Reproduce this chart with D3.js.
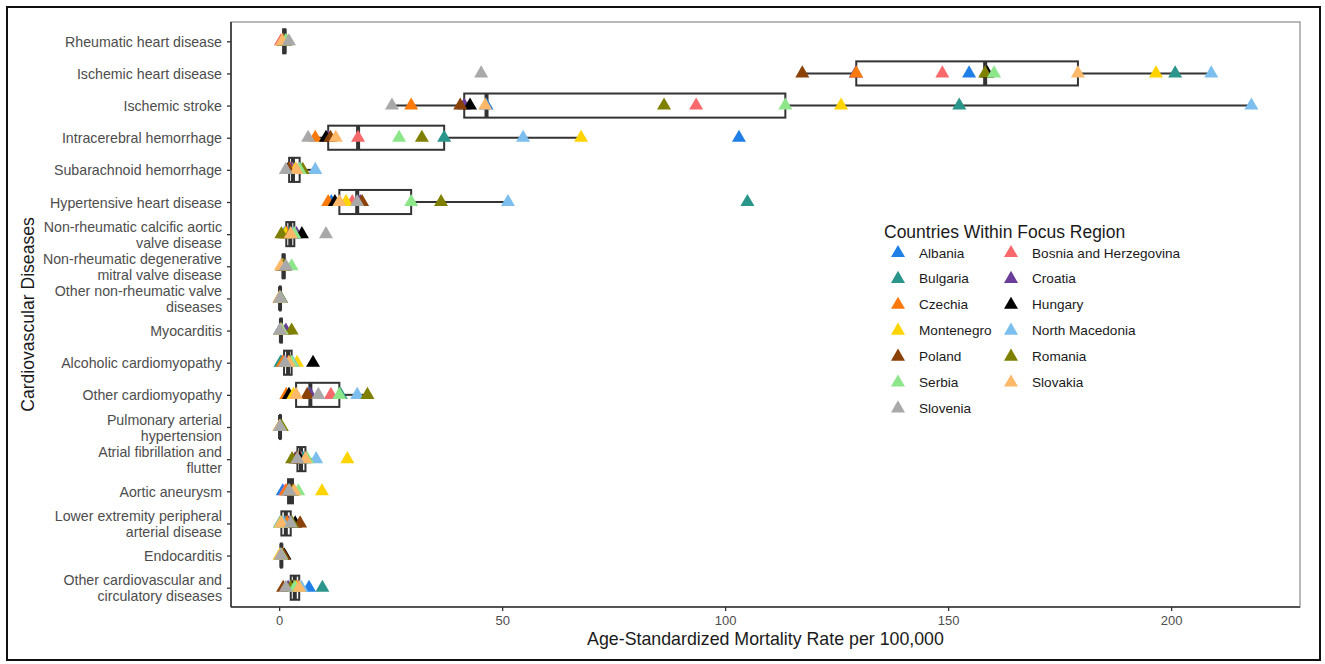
<!DOCTYPE html>
<html>
<head>
<meta charset="utf-8">
<script src="https://cdn.jsdelivr.net/npm/d3@7"></script>
<style>
  html, body { margin: 0; padding: 0; background: #fff; }
  svg { display: block; font-family: "Liberation Sans", Arial, Helvetica, sans-serif; }
</style>
</head>
<body>
<svg id="chart" width="1325" height="664"></svg>
<script>
// ---------------- DATA ----------------
const diseases = [
  "Rheumatic heart disease",
  "Ischemic heart disease",
  "Ischemic stroke",
  "Intracerebral hemorrhage",
  "Subarachnoid hemorrhage",
  "Hypertensive heart disease",
  "Non-rheumatic calcific aortic valve disease",
  "Non-rheumatic degenerative mitral valve disease",
  "Other non-rheumatic valve diseases",
  "Myocarditis",
  "Alcoholic cardiomyopathy",
  "Other cardiomyopathy",
  "Pulmonary arterial hypertension",
  "Atrial fibrillation and flutter",
  "Aortic aneurysm",
  "Lower extremity peripheral arterial disease",
  "Endocarditis",
  "Other cardiovascular and circulatory diseases"
];

const countries = ["Albania", "Bosnia and Herzegovina", "Bulgaria", "Croatia", "Czechia", "Hungary",
  "Montenegro", "North Macedonia", "Poland", "Romania", "Serbia", "Slovakia", "Slovenia"];

const countryColors = ["#1f7fe6", "#f8696b", "#2a958a", "#6a3d9a", "#fb7a0b", "#000000",
  "#ffd400", "#7cbfee", "#8b4209", "#808000", "#8ee68a", "#fdb86a", "#a9a9a9"];

// values in disease order above (age-standardized mortality per 100,000)
const albania        = [1.3, 154.7,  46.5, 103.1, 3.1,  11.7,  1.2, 0.6, 0.2, 0.2, 0.6,  6.7, 0.2,  5.1, 0.8, 0.2, 0.4, 6.7];
const bosnia         = [0.4, 148.7,  93.5,  17.7, 2.9,  16.4,  1.9, 0.8, 0.1, 0.5, 1.1, 11.6, 0.1,  4.9, 1.4, 1.5, 0.3, 4.1];
const bulgaria       = [1.2, 200.9, 152.5,  37.0, 4.8, 105.0,  2.2, 0.9, 0.2, 0.4, 0.3, 13.8, 0.3,  5.4, 2.0, 1.2, 0.6, 9.7];
const croatia        = [1.1, 129.3,  41.5,  11.0, 2.6,  18.2,  3.9, 1.2, 0.4, 1.5, 1.6,  7.0, 0.2,  3.6, 2.7, 2.1, 0.6, 2.0];
const czechia        = [0.8, 129.4,  29.6,   8.1, 2.24, 11.0,  1.6, 0.9, 0.3, 0.3, 0.8,  1.6, 0.2,  4.4, 1.7, 1.8, 0.7, 3.2];
const hungary        = [1.3, 158.8,  42.8,  10.5, 2.0,  12.5,  5.1, 1.3, 0.3, 0.6, 7.6,  2.2, 0.2,  4.6, 2.9, 3.6, 1.2, 2.9];
const montenegro     = [1.0, 196.6, 126.0,  67.7, 3.6,  15.0,  1.4, 0.7, 0.1, 0.5, 4.0,  3.2, 0.1, 15.3, 9.6, 0.3, 0.1, 3.8];
const northMacedonia = [1.4, 209.0, 218.0,  54.7, 8.1,  51.3,  3.0, 1.0, 0.2, 0.4, 3.0, 17.5, 0.3,  8.3, 2.2, 0.9, 0.4, 5.0];
const poland         = [0.9, 117.3,  40.6,  11.5, 2.1,  18.6,  2.5, 1.1, 0.2, 0.4, 2.0,  6.3, 0.3,  3.9, 2.6, 4.7, 1.0, 0.9];
const romania        = [1.6, 158.3,  86.3,  32.0, 5.3,  36.3,  0.5, 1.0, 0.3, 2.8, 2.5, 19.8, 0.6,  2.9, 3.1, 2.9, 0.5, 2.6];
const serbia         = [1.5, 160.3, 113.5,  26.9, 4.6,  29.6,  3.4, 2.8, 0.3, 0.6, 2.8, 13.5, 0.2,  6.3, 4.3, 0.4, 0.5, 3.5];
const slovakia       = [0.7, 179.1,  46.2,  12.7, 3.9,  13.5,  2.6, 0.4, 0.1, 0.3, 2.2,  3.8, 0.1,  5.9, 3.4, 0.5, 0.2, 4.5];
const slovenia       = [2.2,  45.3,  25.3,   6.5, 1.5,  17.5, 10.5, 1.5, 0.2, 0.2, 1.3,  8.8, 0.2,  4.1, 2.3, 2.6, 0.4, 1.5];

const xTicks = [0, 50, 100, 150, 200];

const seriesValues = [albania, bosnia, bulgaria, croatia, czechia, hungary, montenegro,
  northMacedonia, poland, romania, serbia, slovakia, slovenia];

// ---------------- LAYOUT ----------------
const svg = d3.select("#chart");
const panel = { left: 231, right: 1300, top: 22, bottom: 607 };
const FONT = "'Liberation Sans', Arial, sans-serif";

// outer frame
svg.append("rect").attr("x", 7).attr("y", 7).attr("width", 1313).attr("height", 653)
  .attr("fill", "none").attr("stroke", "#111").attr("stroke-width", 2);

// long-format points
const points = [];
seriesValues.forEach((vals, ci) => {
  vals.forEach((v, di) => points.push({ country: countries[ci], color: countryColors[ci], disease: diseases[di], value: v }));
});

const allVals = points.map(d => d.value);
const minV = d3.min(allVals), maxV = d3.max(allVals);
const pad = (maxV - minV) * 0.05;
const x = d3.scaleLinear().domain([minV - pad, maxV + pad]).range([panel.left, panel.right]);
const y = d3.scalePoint().domain(diseases).range([panel.top, panel.bottom]).padding(0.6);
const step = y.step();

// panel border
svg.append("rect").attr("x", panel.left).attr("y", panel.top)
  .attr("width", panel.right - panel.left).attr("height", panel.bottom - panel.top)
  .attr("fill", "none").attr("stroke", "#8a8a8a").attr("stroke-width", 1.2);

// axes
const xAxis = d3.axisBottom(x).tickValues(xTicks).tickSize(4).tickPadding(5);
const gx = svg.append("g").attr("transform", `translate(0,${panel.bottom})`).call(xAxis);
gx.select(".domain").remove();
gx.append("line").attr("x1", panel.left).attr("x2", panel.right).attr("y1", 0).attr("y2", 0)
  .attr("stroke", "#333").attr("stroke-width", 1.6);
gx.selectAll(".tick line").attr("stroke", "#333").attr("stroke-width", 1.3);
gx.selectAll(".tick text").attr("fill", "#4d4d4d").style("font-size", "13px").style("font-family", FONT);

const yAxis = d3.axisLeft(y).tickSize(4).tickPadding(5);
const gy = svg.append("g").attr("transform", `translate(${panel.left},0)`).call(yAxis);
gy.select(".domain").remove();
gy.append("line").attr("x1", 0).attr("x2", 0).attr("y1", panel.top).attr("y2", panel.bottom)
  .attr("stroke", "#333").attr("stroke-width", 1.6);
gy.selectAll(".tick line").attr("stroke", "#333").attr("stroke-width", 1.3);

function wrap(str, width) {
  const words = str.split(" ");
  const lines = [];
  let cur = "";
  words.forEach(w => {
    if (cur === "") cur = w;
    else if ((cur + " " + w).length <= width) cur += " " + w;
    else { lines.push(cur); cur = w; }
  });
  if (cur) lines.push(cur);
  return lines;
}

gy.selectAll(".tick text").each(function (d) {
  const t = d3.select(this);
  const lines = wrap(d, 30);
  t.text(null).attr("fill", "#4d4d4d").style("font-size", "14.2px").style("font-family", FONT)
    .attr("dy", null).attr("dominant-baseline", "central");
  const lh = 16;
  lines.forEach((ln, i) => {
    t.append("tspan").attr("x", -9).attr("y", (i - (lines.length - 1) / 2) * lh).text(ln);
  });
});

// titles
svg.append("text").attr("x", (panel.left + panel.right) / 2).attr("y", 645)
  .attr("text-anchor", "middle").attr("fill", "#1a1a1a").style("font-size", "17.8px")
  .text("Age-Standardized Mortality Rate per 100,000");
svg.append("text").attr("transform", `translate(34,${(panel.top + panel.bottom) / 2}) rotate(-90)`)
  .attr("text-anchor", "middle").attr("fill", "#1a1a1a").style("font-size", "17.6px")
  .text("Cardiovascular Diseases");

// ---------------- BOXPLOTS ----------------
const boxStats = diseases.map((dis, di) => {
  const vals = seriesValues.map(s => s[di]).sort(d3.ascending);
  const q1 = d3.quantile(vals, 0.25), med = d3.quantile(vals, 0.5), q3 = d3.quantile(vals, 0.75);
  const iqr = q3 - q1;
  const lo = d3.min(vals.filter(v => v >= q1 - 1.5 * iqr));
  const hi = d3.max(vals.filter(v => v <= q3 + 1.5 * iqr));
  return { disease: dis, q1, med, q3, lo, hi };
});

const bh = step * 0.75;
const gBox = svg.append("g");
const boxColor = "#333";
boxStats.forEach(b => {
  const cy = y(b.disease);
  gBox.append("line").attr("x1", x(b.lo)).attr("x2", x(b.q1)).attr("y1", cy).attr("y2", cy)
    .attr("stroke", boxColor).attr("stroke-width", 2);
  gBox.append("line").attr("x1", x(b.q3)).attr("x2", x(b.hi)).attr("y1", cy).attr("y2", cy)
    .attr("stroke", boxColor).attr("stroke-width", 2);
  gBox.append("rect").attr("x", x(b.q1)).attr("y", cy - bh / 2)
    .attr("width", Math.max(0, x(b.q3) - x(b.q1))).attr("height", bh)
    .attr("fill", "#fff").attr("stroke", boxColor).attr("stroke-width", 2);
  gBox.append("line").attr("x1", x(b.med)).attr("x2", x(b.med)).attr("y1", cy - bh / 2).attr("y2", cy + bh / 2)
    .attr("stroke", boxColor).attr("stroke-width", 4);
});

// ---------------- POINTS ----------------
const tri = d3.symbol().type(d3.symbolTriangle).size(85);
svg.append("g").selectAll("path").data(points).join("path")
  .attr("d", tri)
  .attr("transform", d => `translate(${x(d.value)},${y(d.disease)})`)
  .attr("fill", d => d.color);

// ---------------- LEGEND ----------------
const lg = svg.append("g");
lg.append("text").attr("x", 884).attr("y", 238).attr("fill", "#1a1a1a").style("font-size", "17.5px")
  .text("Countries Within Focus Region");
countries.forEach((c, i) => {
  const col = i % 2, row = Math.floor(i / 2);
  const tx = col === 0 ? 898 : 1011;
  const ty = 253 + row * 25.9;
  lg.append("path").attr("d", tri).attr("transform", `translate(${tx},${ty})`).attr("fill", countryColors[i]);
  lg.append("text").attr("x", tx + 21).attr("y", ty).attr("dominant-baseline", "central")
    .attr("fill", "#1a1a1a").style("font-size", "13.6px").text(c);
});
</script>
</body>
</html>
